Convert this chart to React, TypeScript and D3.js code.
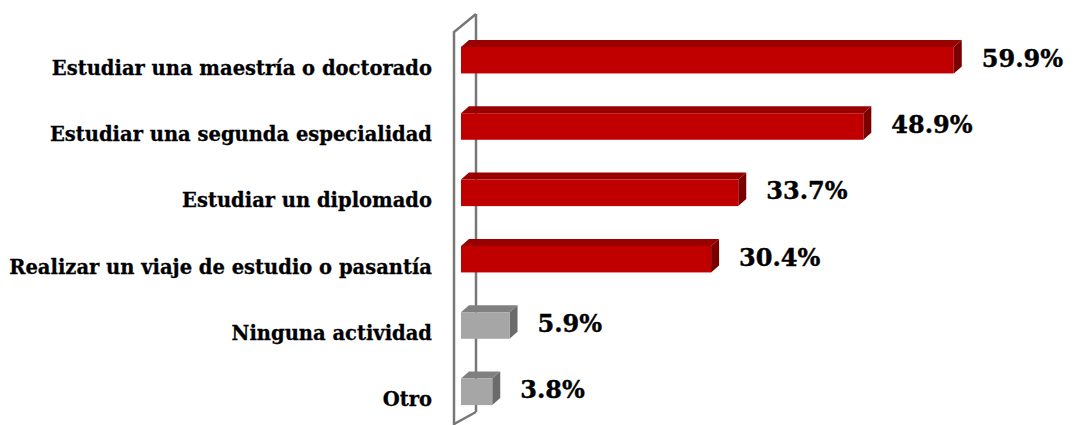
import * as d3 from 'd3';

const categories = [
  'Estudiar una maestría o doctorado',
  'Estudiar una segunda especialidad',
  'Estudiar un diplomado',
  'Realizar un viaje de estudio o pasantía',
  'Ninguna actividad',
  'Otro',
];
const values = [59.9, 48.9, 33.7, 30.4, 5.9, 3.8];
const highlighted = [true, true, true, true, false, false];

const width = 1078;
const height = 425;
const depthX = 8;
const depthY = 7;

const red = { front: '#c00000', top: '#990000', side: '#7a0000' };
const gray = { front: '#a6a6a6', top: '#808080', side: '#6b6b6b' };

export default function App() {
  const x = d3.scaleLinear().domain([0, 60]).range([461, 954.6]);
  const y = d3
    .scaleBand<string>()
    .domain(categories)
    .range([27, 425])
    .paddingInner(0.6)
    .paddingOuter(0.3);
  const bw = y.bandwidth();

  const wallFront = 454;
  const wallBack = 476;

  return (
    <svg
      width={width}
      height={height}
      style={{ position: 'absolute', left: 0, top: 0, background: '#fff' }}
      fontFamily="'DejaVu Serif', serif"
      fontWeight="bold"
    >
      {/* back wall line */}
      <line x1={wallBack} x2={wallBack} y1={14} y2={412} stroke="#777" strokeWidth={2.5} />

      {/* bars */}
      {categories.map((c, i) => {
        const x0 = x(0);
        const x1 = x(values[i]);
        const y0 = y(c)!;
        const y1 = y0 + bw;
        const col = highlighted[i] ? red : gray;
        return (
          <g key={c}>
            <polygon
              points={`${x0},${y0} ${x0 + depthX},${y0 - depthY} ${x1 + depthX},${y0 - depthY} ${x1},${y0}`}
              fill={col.top}
            />
            <polygon
              points={`${x1},${y0} ${x1 + depthX},${y0 - depthY} ${x1 + depthX},${y1 - depthY} ${x1},${y1}`}
              fill={col.side}
            />
            <rect x={x0} y={y0} width={x1 - x0} height={bw} fill={col.front} />
            <text
              x={x1 + depthX + 20}
              y={y0 + bw / 2}
              dominantBaseline="middle"
              fontSize={24}
              fill="#000"
              stroke="#000"
              strokeWidth={0.4}
            >
              {values[i].toFixed(1)}%
            </text>
            <text
              x={432}
              y={y0 + bw / 2 + 9}
              textAnchor="end"
              dominantBaseline="middle"
              fontSize={19.5}
              fill="#000"
              stroke="#000"
              strokeWidth={0.3}
            >
              {c}
            </text>
          </g>
        );
      })}

      {/* front wall outline */}
      <polyline
        points={`${wallFront},${height + 2} ${wallFront},32 ${wallBack},14`}
        fill="none"
        stroke="#777"
        strokeWidth={2.5}
      />
      <line x1={wallFront} x2={wallBack} y1={424} y2={412} stroke="#777" strokeWidth={2.5} />
    </svg>
  );
}
